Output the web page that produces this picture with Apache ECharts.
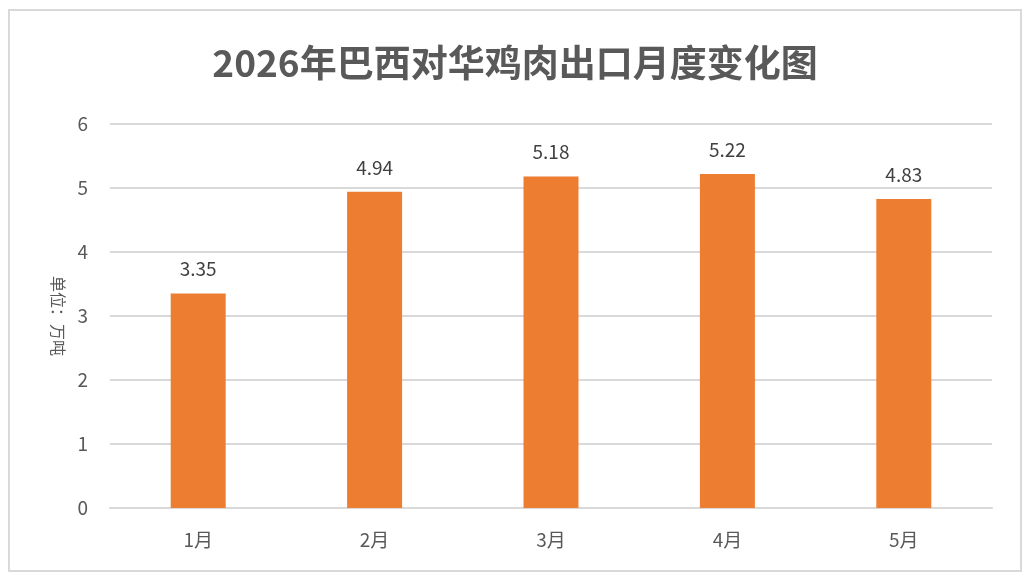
<!DOCTYPE html>
<html>
<head>
<meta charset="utf-8">
<script src="https://cdn.jsdelivr.net/npm/echarts@6/dist/echarts.min.js"></script>
<style>
html,body{margin:0;padding:0;background:#fff;}
#main{width:1030px;height:582px;}
</style>
</head>
<body>
<div id="main"></div>
<script>
var months = ['1月', '2月', '3月', '4月', '5月'];
var exports = [3.35, 4.94, 5.18, 5.22, 4.83];
var yTicks = [0, 1, 2, 3, 4, 5, 6];

var font = '"Noto Sans CJK SC", "Open Sans", sans-serif';
var myChart = echarts.init(document.getElementById('main'));
var option = {
    backgroundColor: '#fff',
    textStyle: { fontFamily: font },
    title: {
        text: '2026年巴西对华鸡肉出口月度变化图',
        left: 'center',
        top: 39,
        textStyle: { fontSize: 37, fontWeight: 'bold', color: '#595959', fontFamily: font }
    },
    graphic: [{
        type: 'rect',
        shape: { x: 9, y: 10, width: 1012, height: 561 },
        style: { fill: 'none', stroke: '#d9d9d9', lineWidth: 2 },
        silent: true
    }],
    grid: { left: 110, right: 38, top: 124, bottom: 74 },
    xAxis: {
        type: 'category',
        data: months,
        axisLine: { show: true, lineStyle: { color: '#d9d9d9', width: 2 } },
        axisTick: { show: false },
        axisLabel: { color: '#595959', fontSize: 19, margin: 22, fontFamily: font }
    },
    yAxis: {
        type: 'value',
        min: yTicks[0],
        max: yTicks[yTicks.length - 1],
        interval: 1,
        name: '单位：万吨',
        nameLocation: 'middle',
        nameRotate: -90,
        nameGap: 42,
        nameTextStyle: { color: '#595959', fontSize: 16, fontFamily: font },
        axisLine: { show: false },
        axisTick: { show: false },
        axisLabel: { color: '#595959', fontSize: 19, margin: 22, fontFamily: font },
        splitLine: { lineStyle: { color: '#d9d9d9', width: 2 } }
    },
    series: [{
        type: 'bar',
        data: exports,
        barWidth: 55,
        itemStyle: { color: '#ED7D31' },
        label: {
            show: true,
            position: 'top',
            distance: 15,
            color: '#404040',
            fontSize: 19,
            fontFamily: font,
            formatter: function (p) { return p.value.toFixed(2); }
        }
    }]
};
myChart.setOption(option);
</script>
</body>
</html>
